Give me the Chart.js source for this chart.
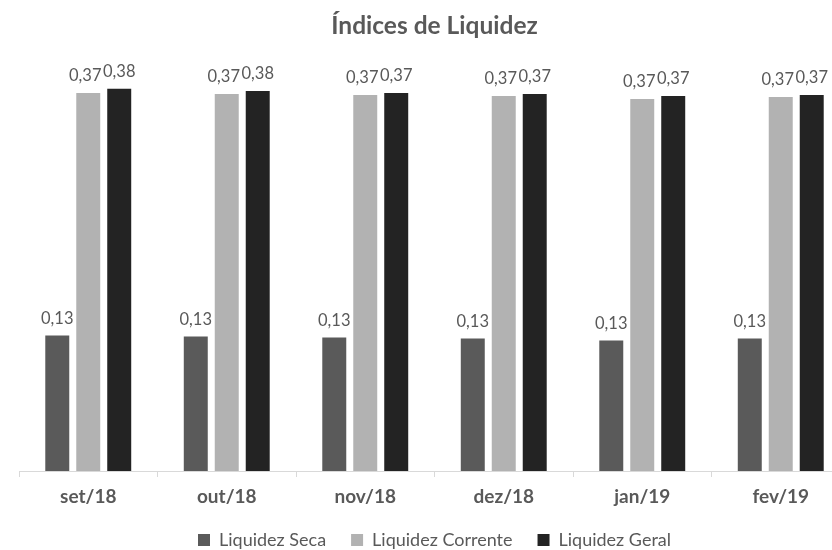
<!DOCTYPE html>
<html lang="pt-BR">
<head>
<meta charset="utf-8">
<title>Índices de Liquidez</title>
<script src="https://cdn.jsdelivr.net/npm/chart.js@4/dist/chart.umd.min.js"></script>
<style>
  html, body { margin: 0; padding: 0; background: #fff; overflow: hidden; }
  #wrap { width: 870px; height: 550px; }
</style>
</head>
<body>
<div id="wrap"><canvas id="chart" width="870" height="550"></canvas></div>
<script>
  const months = ["set/18", "out/18", "nov/18", "dez/18", "jan/19", "fev/19"];
  const liquidezSeca = [0.134, 0.133, 0.132, 0.131, 0.129, 0.131];
  const liquidezCorrente = [0.374, 0.373, 0.372, 0.371, 0.368, 0.370];
  const liquidezGeral = [0.378, 0.376, 0.374, 0.373, 0.371, 0.372];

  const TEXT = "#595959";
  const FONT = "Lato, 'Open Sans', sans-serif";

  function fmt(v) {
    return v.toFixed(2).replace(".", ",");
  }

  // small value labels above every bar (Excel-style data labels)
  const labelShift = [0, -3, 0];
  const valueLabels = {
    id: "valueLabels",
    afterDatasetsDraw(chart) {
      const ctx = chart.ctx;
      ctx.save();
      ctx.font = "16.5px " + FONT;
      ctx.fillStyle = TEXT;
      ctx.textAlign = "center";
      ctx.textBaseline = "alphabetic";
      chart.data.datasets.forEach((ds, i) => {
        chart.getDatasetMeta(i).data.forEach((bar, j) => {
          ctx.fillText(fmt(ds.data[j]), bar.x + labelShift[i], bar.y - 12);
        });
      });
      ctx.restore();
    },
  };

  new Chart(document.getElementById("chart"), {
    type: "bar",
    data: {
      labels: months,
      datasets: [
        {label: "Liquidez Seca", data: liquidezSeca, backgroundColor: "#5a5a5a"},
        {label: "Liquidez Corrente", data: liquidezCorrente, backgroundColor: "#b2b2b2"},
        {label: "Liquidez Geral", data: liquidezGeral, backgroundColor: "#232323"},
      ],
    },
    options: {
      responsive: false,
      animation: false,
      devicePixelRatio: 1,
      categoryPercentage: 0.671,
      barPercentage: 0.774,
      layout: {padding: {left: 19, right: 20, top: 0, bottom: -9}},
      plugins: {
        title: {
          display: true,
          text: "Índices de Liquidez",
          color: TEXT,
          font: {family: FONT, size: 24.5, weight: "bold"},
          padding: {top: 11, bottom: 6},
        },
        legend: {
          position: "bottom",
          labels: {
            color: TEXT,
            font: {family: FONT, size: 18},
            boxWidth: 12,
            boxHeight: 12,
            padding: 25,
          },
        },
        tooltip: {enabled: false},
      },
      scales: {
        x: {
          // give the plot 10px more room; labels stay put under the axis line
          afterFit(scale) {
            scale.height -= 10;
          },
          grid: {
            display: true,
            drawOnChartArea: false,
            drawTicks: true,
            tickLength: 6,
            color: "#d9d9d9",
          },
          border: {display: true, color: "#d9d9d9"},
          ticks: {
            color: TEXT,
            font: {family: FONT, size: 19, weight: "bold", lineHeight: 1},
            padding: 10,
          },
        },
        y: {
          display: false,
          min: 0,
          max: 0.42,
        },
      },
    },
    plugins: [valueLabels],
  });
</script>
</body>
</html>
